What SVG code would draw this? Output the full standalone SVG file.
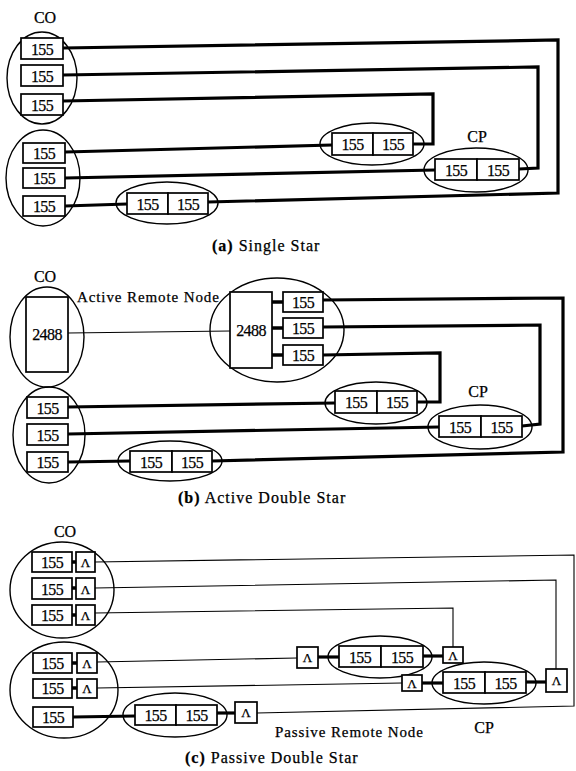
<svg xmlns="http://www.w3.org/2000/svg" width="576" height="771" viewBox="0 0 576 771">
<style>
.bg{fill:#fff}
.ell{fill:none;stroke:#000;stroke-width:1.4}
.box{fill:#fff;stroke:#000;stroke-width:1.7}
.thick{fill:none;stroke:#000;stroke-width:3.2;stroke-linejoin:miter}
.thin{fill:none;stroke:#000;stroke-width:1.1}
.stub{fill:none;stroke:#000;stroke-width:3.5}
text{font-family:"Liberation Serif","Times New Roman",serif;fill:#000;stroke:#000;stroke-width:0.25}
.n{font-size:16px;text-anchor:middle;letter-spacing:-0.6px}
.lam{font-size:13px;text-anchor:middle}
.lbl{font-size:16px;text-anchor:middle}
.side{font-size:15px;letter-spacing:0.9px}
.cap{font-size:16px;letter-spacing:1px}
.capb{font-weight:bold}
</style>
<rect class="bg" x="0" y="0" width="576" height="771"/>

<g id="connectors">
  <!-- (a) Single Star -->
  <polyline class="thick" points="63,48 558,40 558,193 208,202"/>
  <polyline class="thick" points="63,75 538,67 538,168 519,169"/>
  <polyline class="thick" points="63,101 433,94 433,144 413,144"/>
  <polyline class="thick" points="65,152 332,145"/>
  <polyline class="thick" points="65,178 435,170"/>
  <polyline class="thick" points="65,206 127,204"/>
  <!-- (b) Active Double Star -->
  <polyline class="thin" points="68,333 230,331"/>
  <line class="stub" x1="272" y1="302" x2="283" y2="302"/>
  <line class="stub" x1="272" y1="328" x2="283" y2="328"/>
  <line class="stub" x1="272" y1="355" x2="283" y2="355"/>
  <polyline class="thick" points="323,300 563,298 563,452 212,461"/>
  <polyline class="thick" points="323,327 540,325 540,424 522,426"/>
  <polyline class="thick" points="323,355 440,353 440,402 417,402"/>
  <polyline class="thick" points="68,407 335,403"/>
  <polyline class="thick" points="68,434 439,427"/>
  <polyline class="thick" points="68,462 130,461"/>
  <!-- (c) Passive Double Star -->
  <line class="stub" x1="72" y1="562" x2="76" y2="562"/>
  <line class="stub" x1="72" y1="588" x2="76" y2="588"/>
  <line class="stub" x1="72" y1="615" x2="76" y2="615"/>
  <line class="stub" x1="72" y1="663" x2="77" y2="663"/>
  <line class="stub" x1="72" y1="688" x2="77" y2="688"/>
  <polyline class="thin" points="95,562 574,555 574,706 257,713"/>
  <polyline class="thin" points="95,588 556,580 556,669"/>
  <polyline class="thin" points="95,613 453,608 453,647"/>
  <polyline class="thin" points="97,662 297,658"/>
  <polyline class="thin" points="97,688 402,683"/>
  <line class="thick" x1="318" y1="657" x2="339" y2="657"/>
  <line class="thick" x1="423" y1="656" x2="443" y2="656"/>
  <line class="thick" x1="422" y1="683" x2="443" y2="683"/>
  <line class="thick" x1="526" y1="682" x2="546" y2="682"/>
  <line class="thick" x1="73" y1="717" x2="135" y2="716"/>
  <line class="thick" x1="217" y1="713" x2="235" y2="713"/>
</g>

<!-- ===== (a) Single Star ===== -->
<g id="a-co-label"><text class="lbl" x="45" y="23">CO</text></g>
<g id="a-co-top">
  <ellipse class="ell" cx="42" cy="78" rx="35" ry="46"/>
  <rect class="box" x="21" y="38" width="42" height="21"/><text class="n" x="42" y="55">155</text>
  <rect class="box" x="21" y="65" width="42" height="21"/><text class="n" x="42" y="82">155</text>
  <rect class="box" x="21" y="94" width="42" height="21"/><text class="n" x="42" y="111">155</text>
</g>
<g id="a-co-bottom">
  <ellipse class="ell" cx="43" cy="178" rx="37" ry="48"/>
  <rect class="box" x="23" y="143" width="42" height="20"/><text class="n" x="44" y="159">155</text>
  <rect class="box" x="23" y="168" width="42" height="20"/><text class="n" x="44" y="184">155</text>
  <rect class="box" x="23" y="196" width="42" height="20"/><text class="n" x="44" y="212">155</text>
</g>
<g id="a-onu-left">
  <ellipse class="ell" cx="167" cy="203" rx="51" ry="21"/>
  <rect class="box" x="127" y="193" width="41" height="21"/><text class="n" x="147.5" y="210">155</text>
  <rect class="box" x="168" y="193" width="40" height="21"/><text class="n" x="188" y="210">155</text>
</g>
<g id="a-onu-mid">
  <ellipse class="ell" cx="372" cy="144" rx="52" ry="21"/>
  <rect class="box" x="332" y="133" width="41" height="22"/><text class="n" x="352.5" y="150">155</text>
  <rect class="box" x="373" y="133" width="40" height="22"/><text class="n" x="393" y="150">155</text>
</g>
<g id="a-cp">
  <text class="lbl" x="477" y="142">CP</text>
  <ellipse class="ell" cx="476" cy="170" rx="52" ry="22"/>
  <rect class="box" x="435" y="159" width="42" height="21"/><text class="n" x="456" y="176">155</text>
  <rect class="box" x="477" y="159" width="42" height="21"/><text class="n" x="498" y="176">155</text>
</g>
<g id="a-caption"><text class="cap" x="212" y="251"><tspan class="capb">(a)</tspan> Single Star</text></g>

<!-- ===== (b) Active Double Star ===== -->
<g id="b-co-label"><text class="lbl" x="45" y="282">CO</text></g>
<g id="b-co-top">
  <ellipse class="ell" cx="47" cy="337" rx="37" ry="50"/>
  <rect class="box" x="26" y="297" width="42" height="75"/><text class="n" x="47" y="340">2488</text>
</g>
<g id="b-remote">
  <text class="side" x="77" y="302">Active Remote Node</text>
  <ellipse class="ell" cx="277" cy="330" rx="67" ry="52"/>
  <rect class="box" x="230" y="292" width="42" height="76"/><text class="n" x="251" y="336">2488</text>
  <rect class="box" x="283" y="292" width="40" height="20"/><text class="n" x="303" y="308">155</text>
  <rect class="box" x="283" y="318" width="40" height="20"/><text class="n" x="303" y="334">155</text>
  <rect class="box" x="283" y="345" width="40" height="20"/><text class="n" x="303" y="361">155</text>
</g>
<g id="b-co-bottom">
  <ellipse class="ell" cx="49" cy="435" rx="36" ry="48"/>
  <rect class="box" x="27" y="397" width="41" height="21"/><text class="n" x="47.5" y="414">155</text>
  <rect class="box" x="27" y="424" width="41" height="21"/><text class="n" x="47.5" y="441">155</text>
  <rect class="box" x="27" y="452" width="41" height="20"/><text class="n" x="47.5" y="468">155</text>
</g>
<g id="b-onu-left">
  <ellipse class="ell" cx="170" cy="461" rx="52" ry="20"/>
  <rect class="box" x="130" y="451" width="42" height="21"/><text class="n" x="151" y="468">155</text>
  <rect class="box" x="172" y="451" width="40" height="21"/><text class="n" x="192" y="468">155</text>
</g>
<g id="b-onu-mid">
  <ellipse class="ell" cx="376" cy="403" rx="51" ry="21"/>
  <rect class="box" x="335" y="391" width="42" height="22"/><text class="n" x="356" y="408">155</text>
  <rect class="box" x="377" y="391" width="40" height="22"/><text class="n" x="397" y="408">155</text>
</g>
<g id="b-cp">
  <text class="lbl" x="478" y="397">CP</text>
  <ellipse class="ell" cx="480" cy="427" rx="52" ry="22"/>
  <rect class="box" x="439" y="416" width="42" height="21"/><text class="n" x="460" y="433">155</text>
  <rect class="box" x="481" y="416" width="41" height="21"/><text class="n" x="501.5" y="433">155</text>
</g>
<g id="b-caption"><text class="cap" x="178" y="503"><tspan class="capb">(b)</tspan> Active Double Star</text></g>

<!-- ===== (c) Passive Double Star ===== -->
<g id="c-co-label"><text class="lbl" x="65" y="537">CO</text></g>
<g id="c-co-top">
  <ellipse class="ell" cx="62" cy="590" rx="52" ry="48"/>
  <rect class="box" x="32" y="552" width="40" height="20"/><text class="n" x="52" y="568">155</text>
  <rect class="box" x="76" y="552" width="19" height="20"/><text class="lam" x="85.5" y="567">Λ</text>
  <rect class="box" x="32" y="578" width="40" height="21"/><text class="n" x="52" y="595">155</text>
  <rect class="box" x="76" y="578" width="19" height="21"/><text class="lam" x="85.5" y="594">Λ</text>
  <rect class="box" x="32" y="605" width="40" height="20"/><text class="n" x="52" y="621">155</text>
  <rect class="box" x="76" y="605" width="19" height="20"/><text class="lam" x="85.5" y="620">Λ</text>
</g>
<g id="c-co-bottom">
  <ellipse class="ell" cx="64" cy="690" rx="54" ry="48"/>
  <rect class="box" x="33" y="653" width="39" height="20"/><text class="n" x="52.5" y="669">155</text>
  <rect class="box" x="77" y="653" width="20" height="20"/><text class="lam" x="87" y="668">Λ</text>
  <rect class="box" x="33" y="679" width="39" height="19"/><text class="n" x="52.5" y="694">155</text>
  <rect class="box" x="77" y="679" width="20" height="19"/><text class="lam" x="87" y="693">Λ</text>
  <rect class="box" x="33" y="707" width="40" height="20"/><text class="n" x="53" y="723">155</text>
</g>
<g id="c-onu-left">
  <ellipse class="ell" cx="175" cy="715" rx="52" ry="22"/>
  <rect class="box" x="135" y="705" width="41" height="20"/><text class="n" x="155.5" y="721">155</text>
  <rect class="box" x="176" y="705" width="41" height="20"/><text class="n" x="196.5" y="721">155</text>
  <rect class="box" x="235" y="702" width="22" height="21"/><text class="lam" x="246" y="717">Λ</text>
</g>
<g id="c-onu-mid">
  <rect class="box" x="297" y="647" width="21" height="21"/><text class="lam" x="307.5" y="662">Λ</text>
  <ellipse class="ell" cx="380" cy="657" rx="52" ry="21"/>
  <rect class="box" x="339" y="646" width="42" height="21"/><text class="n" x="360" y="663">155</text>
  <rect class="box" x="381" y="646" width="42" height="21"/><text class="n" x="402" y="663">155</text>
  <rect class="box" x="443" y="647" width="20" height="16"/><text class="lam" x="453" y="660">Λ</text>
</g>
<g id="c-cp">
  <rect class="box" x="402" y="675" width="20" height="16"/><text class="lam" x="412" y="688">Λ</text>
  <ellipse class="ell" cx="484" cy="683" rx="52" ry="21"/>
  <rect class="box" x="443" y="672" width="42" height="21"/><text class="n" x="464" y="689">155</text>
  <rect class="box" x="485" y="672" width="41" height="21"/><text class="n" x="505.5" y="689">155</text>
  <rect class="box" x="546" y="669" width="21" height="23"/><text class="lam" x="556.5" y="685">Λ</text>
  <text class="lbl" x="484" y="733">CP</text>
</g>
<g id="c-remote-label"><text class="side" x="275" y="737">Passive Remote Node</text></g>
<g id="c-caption"><text class="cap" x="185" y="763"><tspan class="capb">(c)</tspan> Passive Double Star</text></g>
</svg>
